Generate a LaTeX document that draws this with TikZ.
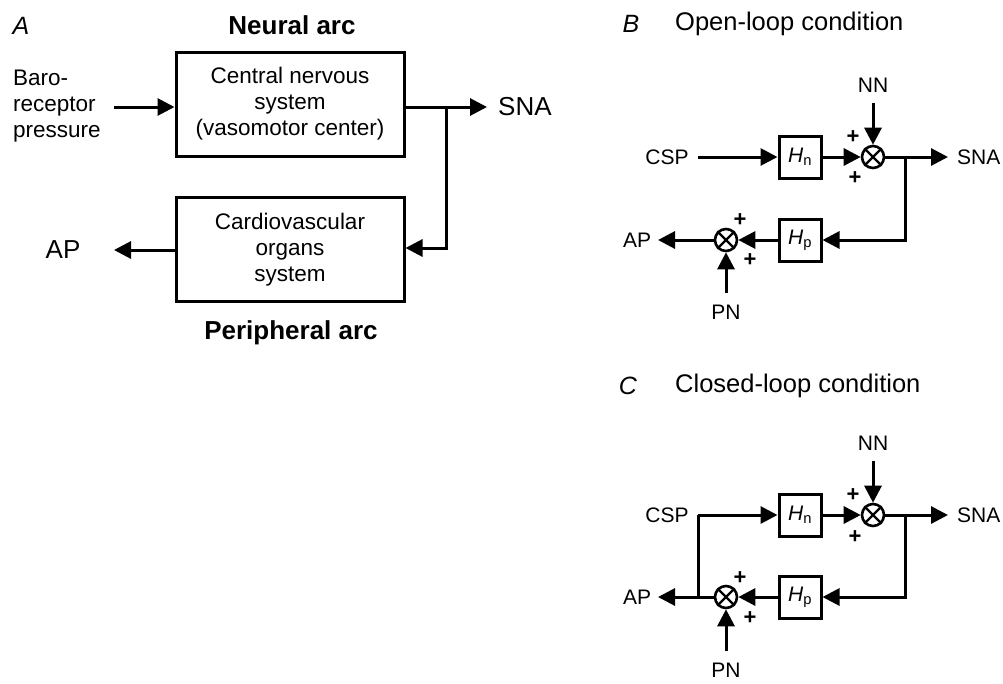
\documentclass[tikz,border=0pt]{standalone}
\usepackage{fontspec}
\setmainfont{Liberation Sans}
\usetikzlibrary{arrows.meta,calc}
\begin{document}
\begin{tikzpicture}[x=1pt,y=-1pt,
  ln/.style={line width=3pt},
  arr/.style={line width=3pt,-{Triangle[length=17pt,width=17pt]}},
  blk/.style={draw,line width=3pt,minimum width=228pt,minimum height=104pt,align=center,inner sep=0pt,font=\fontsize{22.5}{26}\selectfont},
  gbox/.style={draw,line width=3pt,minimum width=42pt,minimum height=42pt,inner sep=0pt,font=\fontsize{21}{24}\selectfont},
  sumn/.style={draw,circle,line width=2.6pt,minimum size=22pt,inner sep=0pt},
  xmark/.style={line width=2.4pt},
  lab/.style={inner sep=0pt,font=\fontsize{21}{26}\selectfont},
  baro/.style={inner sep=0pt,font=\fontsize{22.5}{26}\selectfont},
  biglab/.style={inner sep=0pt,font=\fontsize{26}{28}\selectfont},
  arclab/.style={inner sep=0pt,font=\bfseries\fontsize{26}{28}\selectfont},
  plus/.style={inner sep=0pt,font=\bfseries\fontsize{22}{22}\selectfont},
  ttl/.style={inner sep=0pt,anchor=west,font=\fontsize{25.5}{28}\selectfont},
  pl/.style={inner sep=0pt,font=\itshape\fontsize{25}{28}\selectfont}
]
\useasboundingbox[fill=white] (0,0) rectangle (1003,683);

% ---------------- Panel A ----------------
\node[pl] (lA) at (21,26) {A};
\node[arclab] (neural) at (292,25) {Neural arc};
\node[blk] (cns) at (290,104) {Central nervous\\system\\(vasomotor center)};
\node[blk] (cvs) at (290,249.5) {Cardiovascular\\organs\\system};
\node[baro,anchor=west,align=left] (baroA) at (13,106) {Baro-\\receptor\\pressure};
\coordinate (bin) at (114,107);
\draw[arr] (bin) -- (bin -| cns.west);
\node[biglab,anchor=west] (snaA) at (498,107) {SNA};
\coordinate (snaAt) at (487,107);
\draw[arr] (cns.east |- snaAt) -- (snaAt);
\coordinate (brA) at (446,107);
\coordinate (brAd) at (446,248);
\draw[arr] (brA) -- (brAd) -- (brAd -| cvs.east);
\node[biglab] (apA) at (63,250) {AP};
\coordinate (apAt) at (114,250);
\draw[arr] (cvs.west |- apAt) -- (apAt);
\node[arclab] (periph) at (291,333) {Peripheral arc};

% ---------------- Panel B ----------------
\node[pl] (lB) at (631,24) {B};
\node[ttl] (tB) at (675,24) {Open-loop condition};
\node[lab] (cspB) at (667,157) {CSP};
\node[gbox] (hnB) at (800,157) {{\itshape H}\textsubscript{n}};
\node[sumn] (s1B) at (873,157) {};
\draw[xmark] (s1B.north west) -- (s1B.south east) (s1B.north east) -- (s1B.south west);
\node[lab] (nnB) at (873,85) {NN};
\coordinate (nnBs) at (873,103);
\draw[arr] (nnBs) -- (s1B.north);
\coordinate (cspBs) at (698,157);
\draw[arr] (cspBs) -- (hnB.west);
\draw[arr] (hnB.east) -- (s1B.west);
\node[lab,anchor=west] (snaB) at (957,157) {SNA};
\coordinate (snaBt) at (948,157);
\draw[arr] (s1B.east) -- (snaBt);
\node[gbox] (hpB) at (800,240) {{\itshape H}\textsubscript{p}};
\coordinate (brB) at (905,157);
\coordinate (brBd) at (905,240);
\draw[arr] (brB) -- (brBd) -- (hpB.east);
\node[sumn] (s2B) at (726,240) {};
\draw[xmark] (s2B.north west) -- (s2B.south east) (s2B.north east) -- (s2B.south west);
\draw[arr] (hpB.west) -- (s2B.east);
\node[lab] (apB) at (637,240) {AP};
\coordinate (apBt) at (658,240);
\draw[arr] (s2B.west) -- (apBt);
\node[lab] (pnB) at (726,312) {PN};
\coordinate (pnBs) at (726,293);
\draw[arr] (pnBs) -- (s2B.south);
\node[plus] (p1B) at (853,137) {+};
\node[plus] (p2B) at (855,178) {+};
\node[plus] (p3B) at (740,220) {+};
\node[plus] (p4B) at (750,260) {+};

% ---------------- Panel C ----------------
\node[pl] (lC) at (628,386) {C};
\node[ttl] (tC) at (675,386) {Closed-loop condition};
\node[lab] (cspC) at (667,515) {CSP};
\node[gbox] (hnC) at (800,515) {{\itshape H}\textsubscript{n}};
\node[sumn] (s1C) at (873,515) {};
\draw[xmark] (s1C.north west) -- (s1C.south east) (s1C.north east) -- (s1C.south west);
\node[lab] (nnC) at (873,443) {NN};
\coordinate (nnCs) at (873,461);
\draw[arr] (nnCs) -- (s1C.north);
\coordinate (cspCs) at (698,515);
\draw[arr] (cspCs) -- (hnC.west);
\draw[arr] (hnC.east) -- (s1C.west);
\node[lab,anchor=west] (snaC) at (957,515) {SNA};
\coordinate (snaCt) at (948,515);
\draw[arr] (s1C.east) -- (snaCt);
\node[gbox] (hpC) at (800,597) {{\itshape H}\textsubscript{p}};
\coordinate (brC) at (905,515);
\coordinate (brCd) at (905,597);
\draw[arr] (brC) -- (brCd) -- (hpC.east);
\node[sumn] (s2C) at (726,597) {};
\draw[xmark] (s2C.north west) -- (s2C.south east) (s2C.north east) -- (s2C.south west);
\draw[arr] (hpC.west) -- (s2C.east);
\node[lab] (apC) at (637,597) {AP};
\coordinate (apCt) at (658,597);
\draw[arr] (s2C.west) -- (apCt);
\draw[ln] (cspCs) -- (cspCs |- apCt);
\node[lab] (pnC) at (726,670) {PN};
\coordinate (pnCs) at (726,651);
\draw[arr] (pnCs) -- (s2C.south);
\node[plus] (p1C) at (853,495) {+};
\node[plus] (p2C) at (855,537) {+};
\node[plus] (p3C) at (740,578) {+};
\node[plus] (p4C) at (750,618) {+};
\end{tikzpicture}
\end{document}
